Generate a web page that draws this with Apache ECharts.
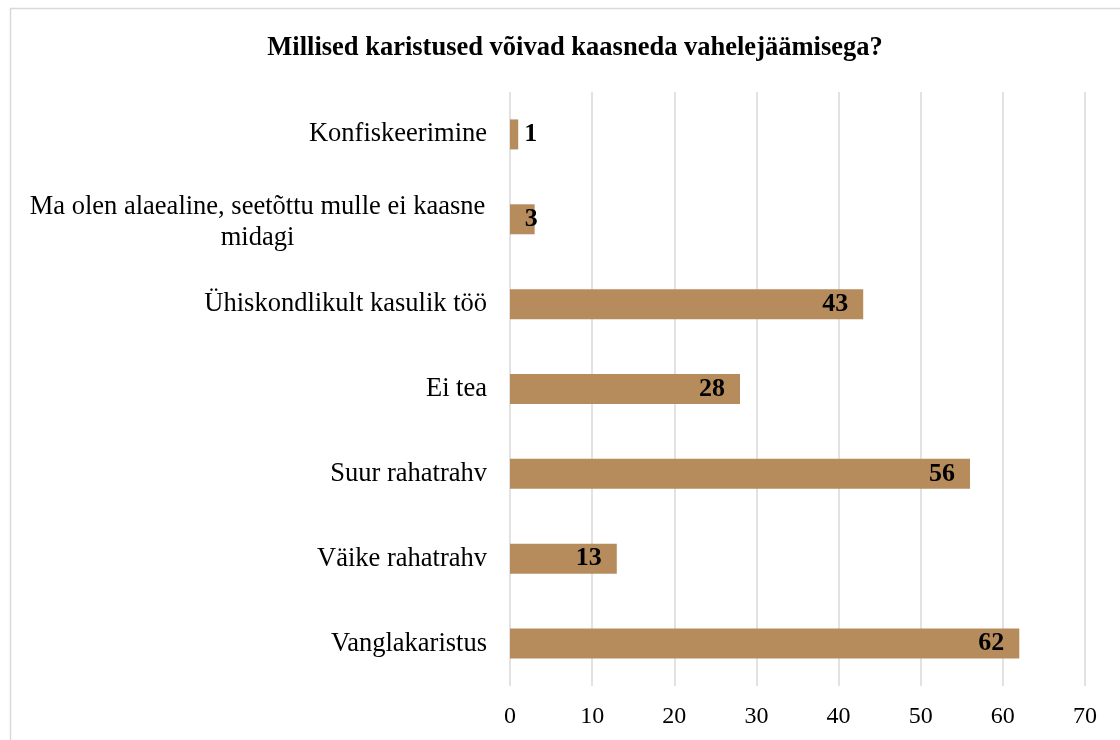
<!DOCTYPE html>
<html>
<head>
<meta charset="utf-8">
<script src="https://cdn.jsdelivr.net/npm/echarts@6/dist/echarts.min.js"></script>
<style>
    html, body { margin: 0; padding: 0; background: #fff; }
    #chart-container { width: 1120px; height: 740px; }
</style>
</head>
<body>
<div id="chart-container"></div>
<script>
var categories = [
    'Konfiskeerimine',
    'Ma olen alaealine, seetõttu mulle ei kaasne\nmidagi',
    'Ühiskondlikult kasulik töö',
    'Ei tea',
    'Suur rahatrahv',
    'Väike rahatrahv',
    'Vanglakaristus'
];
var values = [1, 3, 43, 28, 56, 13, 62];
var xTicks = [0, 10, 20, 30, 40, 50, 60, 70];

(function () {
    var domChart = document.getElementById('chart-container');
    var ioChart = echarts.init(domChart);
    var font = '"Liberation Serif", "Times New Roman", serif';

    // small bars get their label outside / at the edge
    var seriesData = values.map(function (v) {
        var item = { value: v };
        if (v < 2) {
            item.label = { position: 'right', distance: 6 };
        } else if (v < 5) {
            item.label = { position: 'insideRight', distance: -3 };
        }
        return item;
    });

    var chartOption = {
        backgroundColor: '#ffffff',
        animation: false,
        title: {
            text: 'Millised karistused võivad kaasneda vahelejäämisega?',
            left: 570,
            top: 30,
            textAlign: 'center',
            textStyle: {
                fontFamily: font,
                fontSize: 26.5,
                fontWeight: 'bold',
                color: '#000'
            }
        },
        graphic: [
            {
                type: 'rect',
                shape: { x: 10.5, y: 8.5, width: 1130, height: 760 },
                style: { fill: 'none', stroke: '#D9D9D9', lineWidth: 1.5 },
                silent: true
            }
        ],
        grid: {
            left: 510,
            right: 35,
            top: 92,
            bottom: 54
        },
        xAxis: {
            type: 'value',
            min: xTicks[0],
            max: xTicks[xTicks.length - 1],
            interval: 10,
            axisLine: { show: false },
            axisTick: { show: false },
            axisLabel: {
                margin: 19,
                fontFamily: font,
                fontSize: 24,
                color: '#000'
            },
            splitLine: {
                show: true,
                lineStyle: { color: '#D9D9D9', width: 1.5 }
            }
        },
        yAxis: {
            type: 'category',
            inverse: true,
            data: categories,
            axisLine: { show: false },
            axisTick: { show: false },
            axisLabel: {
                margin: 23,
                fontFamily: font,
                fontSize: 26.5,
                color: '#000',
                lineHeight: 31,
                formatter: function (value) {
                    if (value.indexOf('\n') < 0) {
                        return value;
                    }
                    return value.split('\n').map(function (s) {
                        return '{c|' + s + '}';
                    }).join('\n');
                },
                rich: {
                    c: {
                        width: 459,
                        align: 'center',
                        fontFamily: font,
                        fontSize: 26.5,
                        lineHeight: 31,
                        color: '#000',
                        padding: [7, 0, 0, 0]
                    }
                }
            }
        },
        series: [
            {
                type: 'bar',
                data: seriesData,
                barWidth: 30,
                itemStyle: { color: '#B68C5D' },
                label: {
                    show: true,
                    position: 'insideRight',
                    distance: 15,
                    fontFamily: font,
                    fontSize: 26,
                    fontWeight: 'bold',
                    color: '#000'
                }
            }
        ]
    };
    ioChart.setOption(chartOption);
})();
</script>
</body>
</html>
